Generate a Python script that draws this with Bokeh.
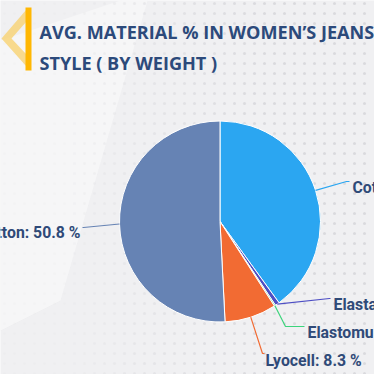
import numpy as np
from bokeh.plotting import figure
from bokeh.models import Range1d, ColumnDataSource
from bokeh.embed import file_html
from bokeh.resources import INLINE
from bokeh.core.properties import value

# ---- data ----
materials = ["Cotton", "Elastane", "Elastomultiester", "Lyocell", "Recycled Cotton"]
shares = [40.0, 0.7, 0.2, 8.3, 50.8]
colors = ["#2ba6f1", "#4e4fc4", "#3dd47c", "#f26b33", "#6683b4"]
title_lines = ["AVG. MATERIAL % IN WOMEN\u2019S JEANS", "STYLE ( BY WEIGHT )"]

# ---- layout (canvas px, y measured downward) ----
W = H = 374
CX, CY, R = 219.5, 221, 100.5
# per slice: elbow point, connector end, label anchor (baseline), alignment
label_layout = [
    dict(elbow=(346, 181), end=(349, 181), text=(352, 187), align="left"),
    dict(elbow=(329, 298), end=(330, 298), text=(333, 304), align="left"),
    dict(elbow=(285, 326), end=(304, 326), text=(307, 332), align="left"),
    dict(elbow=(262, 353), end=(264, 353), text=(265, 360), align="left"),
    dict(elbow=(83, 227), end=(82, 227), text=(80, 232), align="right"),
]

def Y(y):
    return H - y

p = figure(width=W, height=H, output_backend="svg", toolbar_location=None,
           x_range=Range1d(0, W), y_range=Range1d(0, H), min_border=0)
p.axis.visible = False
p.grid.visible = False
p.outline_line_color = None
p.background_fill_color = "#f0f0f2"
p.border_fill_color = "#f0f0f2"

# background decoration: lighter diagonal band and dot grid
p.patch([0, 150, 60, 0], [Y(40), Y(-10), Y(300), Y(330)], fill_color="#f6f6f7",
        line_color=None, alpha=0.9)
gx, gy = np.meshgrid(np.arange(4, W, 10), np.arange(3, H, 10))
gx = gx.ravel(); gy = gy.ravel()
alph = np.clip((gx - 40) / 220.0, 0.12, 1.0)
p.scatter(gx, Y(gy), size=3, fill_color="#dadade", line_color=None, fill_alpha=alph)

# title decoration
p.patch([26, 1, 26, 26, 11, 26], [Y(9), Y(38), Y(66), Y(54), Y(38), Y(21)],
        fill_color="#f8d06a", line_color=None, alpha=0.75)
p.quad(left=[25], right=[31], top=[Y(7)], bottom=[Y(70)], fill_color="#ffb703", line_color=None)

for i, t in enumerate(title_lines):
    p.text(x=[39], y=[Y(31.5 + 30.5 * i)], text=[t], text_font=value("Open Sans"),
           text_font_style="bold", text_font_size="18.1px", text_color="#2c4a7b",
           text_baseline="alphabetic", text_align="left")

# ---- pie ----
vals = np.array(shares, dtype=float)
frac = vals / vals.sum()
cum_end = np.cumsum(frac)
cum_start = cum_end - frac
start_ang = np.pi / 2 - 2 * np.pi * cum_end
end_ang = np.pi / 2 - 2 * np.pi * cum_start
src = ColumnDataSource(dict(x=[CX] * len(vals), y=[Y(CY)] * len(vals), s=start_ang,
                            e=end_ang, c=colors))
p.wedge(x="x", y="y", radius=R, start_angle="s", end_angle="e", fill_color="c",
        line_color="white", line_width=1, source=src)

# ---- labels and connectors ----
mid = 2 * np.pi * (cum_start + cum_end) / 2
for i, name in enumerate(materials):
    ax = CX + R * np.sin(mid[i])
    ay = CY - R * np.cos(mid[i])
    lay = label_layout[i]
    xs = [ax, lay["elbow"][0], lay["end"][0]]
    ys = [Y(ay), Y(lay["elbow"][1]), Y(lay["end"][1])]
    p.line(xs, ys, line_color=colors[i], line_width=1.2)
    txt = f"{name}: {shares[i]:.1f} %"
    p.text(x=[lay["text"][0]], y=[Y(lay["text"][1])], text=[txt],
           text_font=value("Roboto"), text_font_style="bold", text_font_size="15.8px",
           text_color="#2f4a78", text_baseline="alphabetic", text_align=lay["align"])

open("out.html", "w").write(file_html(p, INLINE))
